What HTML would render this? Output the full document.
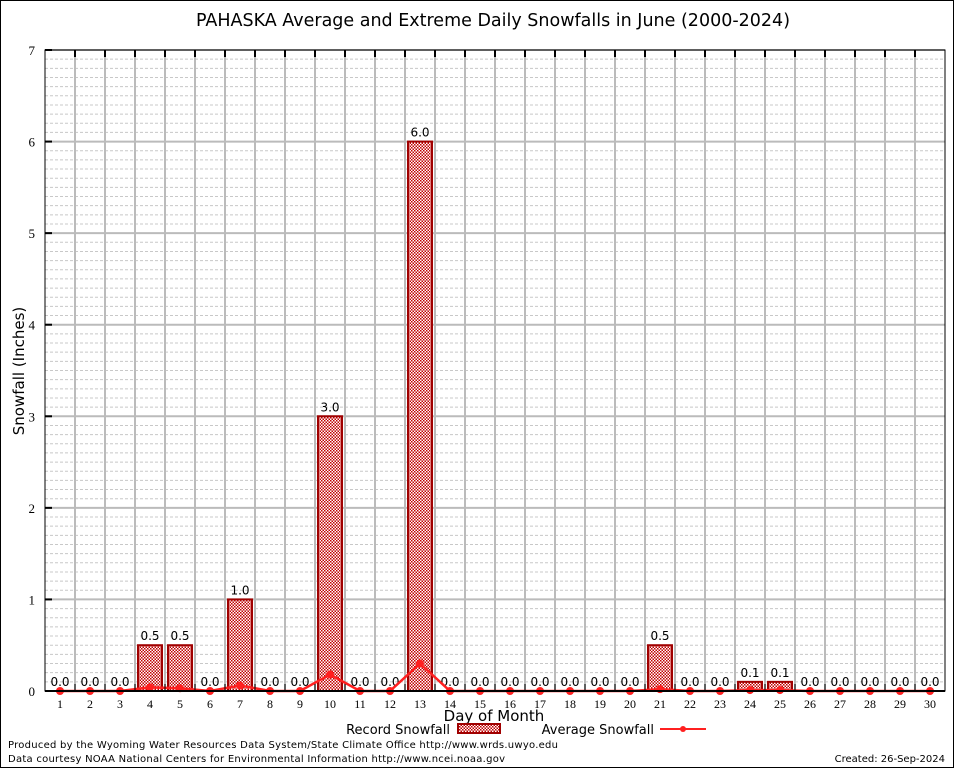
<!DOCTYPE html>
<html><head><meta charset="utf-8"><style>
body{margin:0;background:#fff;}
svg{display:block;font-family:"DejaVu Sans","Liberation Sans",sans-serif;}
</style></head><body>
<svg width="954" height="768" xmlns="http://www.w3.org/2000/svg">
<defs>
<pattern id="hatch" width="3" height="3" patternUnits="userSpaceOnUse">
<rect width="3" height="3" fill="#fff"/>
<rect x="0" y="0" width="1.5" height="1.5" fill="#c00000"/>
<rect x="1.5" y="1.5" width="1.5" height="1.5" fill="#c00000"/>
</pattern>
</defs>
<rect x="0.5" y="0.5" width="953" height="767" fill="#fff" stroke="#000"/>
<text x="493" y="26" font-size="17.5" text-anchor="middle">PAHASKA Average and Extreme Daily Snowfalls in June (2000-2024)</text>
<g id="grid"></g>
<g id="bars"></g>
<g id="avg"></g>
<g id="axes"></g>
<text transform="translate(24,371) rotate(-90)" font-size="15" text-anchor="middle">Snowfall (Inches)</text>
<text x="494" y="721" font-size="15" text-anchor="middle">Day of Month</text>
<g>
<text x="450" y="734" font-size="13" text-anchor="end">Record Snowfall</text>
<rect x="458" y="724" width="42" height="9" fill="url(#hatch)" stroke="#a00000" stroke-width="2"/>
<text x="654" y="734" font-size="13" text-anchor="end">Average Snowfall</text>
<line x1="660" y1="729" x2="706" y2="729" stroke="#ff2020" stroke-width="2"/>
<circle cx="683" cy="729" r="3" fill="#ff2020"/>
</g>
<text x="8" y="748" font-size="10" textLength="550">Produced by the Wyoming Water Resources Data System/State Climate Office http://www.wrds.uwyo.edu</text>
<text x="8" y="762" font-size="10" textLength="497">Data courtesy NOAA National Centers for Environmental Information http://www.ncei.noaa.gov</text>
<text x="945" y="762" font-size="10" text-anchor="end">Created:  26-Sep-2024</text>
</svg>
<script>
const days = [1,2,3,4,5,6,7,8,9,10,11,12,13,14,15,16,17,18,19,20,21,22,23,24,25,26,27,28,29,30];
const recordValues = [0,0,0,0.5,0.5,0,1.0,0,0,3.0,0,0,6.0,0,0,0,0,0,0,0,0.5,0,0,0.1,0.1,0,0,0,0,0];
const averageValues = [0,0,0,0.04,0.03,0,0.06,0,0,0.18,0,0,0.3,0,0,0,0,0,0,0,0.02,0,0,0.01,0.01,0,0,0,0,0];
const yTicks = [0,1,2,3,4,5,6,7];
const NS="http://www.w3.org/2000/svg";
const L=45,R=945,T=50,B=691,yMax=7;
const band=(R-L)/days.length;
function xs(i){return L+band*(i+0.5);}
function ys(v){return B-(v/yMax)*(B-T);}
function mk(tag,attrs,parent){const e=document.createElementNS(NS,tag);for(const k in attrs)e.setAttribute(k,attrs[k]);parent.appendChild(e);return e;}
const grid=document.getElementById('grid'),bars=document.getElementById('bars'),avg=document.getElementById('avg'),axes=document.getElementById('axes');
for(let v=0;v<=yMax*10;v++){
  if(v%10===0)continue;
  const y=ys(v/10);
  const ln=mk('line',{x1:L,x2:R,y1:y,y2:y,stroke:'#c8c8c8','stroke-width':1,'stroke-dasharray':'3,2'},grid);
  
  
}
yTicks.forEach(t=>{
  const y=ys(t);
  const ln=mk('line',{x1:L,x2:R,y1:y,y2:y,stroke:'#bbb','stroke-width':2},grid);
  
  
  const tx=mk('text',{x:L-10,y:y+5,'font-size':13,'text-anchor':'end','font-family':'Liberation Serif,serif'},axes);
  tx.textContent=t;
  
  
  const tk=mk('line',{x1:L,x2:L+7,y1:y,y2:y,stroke:'#000','stroke-width':2},axes);
  
  
});
for(let i=1;i<days.length;i++){
  const x=L+band*i;
  const ln=mk('line',{x1:x,x2:x,y1:T,y2:B,stroke:'#bbb','stroke-width':2},grid);
  
  
  const tk=mk('line',{x1:x,x2:x,y1:T,y2:T+7,stroke:'#000','stroke-width':2},axes);
  
  
  const tb=mk('line',{x1:x,x2:x,y1:B,y2:B-7,stroke:'#000','stroke-width':1},axes);
  
  
}
days.forEach((d,i)=>{
  const v=recordValues[i],x=xs(i),w=24;
  if(v>0){
    const r=mk('rect',{x:x-w/2,y:ys(v),width:w,height:B-ys(v),fill:'url(#hatch)',stroke:'#a00000','stroke-width':2},bars);
    
    
  }
  const lb=mk('text',{x:x,y:ys(v)-5,'font-size':12,'text-anchor':'middle'},bars);
  lb.textContent=v.toFixed(1);
  
  
  const xl=mk('text',{x:x,y:B+17,'font-size':12,'text-anchor':'middle','font-family':'Liberation Serif,serif'},axes);
  xl.textContent=d;
  
  
});
const pts=averageValues.map((v,i)=>xs(i)+','+ys(v)).join(' ');
const pl=mk('polyline',{points:pts,fill:'none',stroke:'#ff2020','stroke-width':2.5},avg);


averageValues.forEach((v,i)=>{
  const c=mk('circle',{cx:xs(i),cy:ys(v),r:4,fill:'#ff2020'},avg);
  
  
});
const fr=mk('rect',{x:L,y:T,width:R-L,height:B-T,fill:'none',stroke:'#000','stroke-width':1},axes);


const ba=mk('line',{x1:L,x2:R,y1:B,y2:B,stroke:'#000','stroke-width':2},axes);


</script>
</body></html>
